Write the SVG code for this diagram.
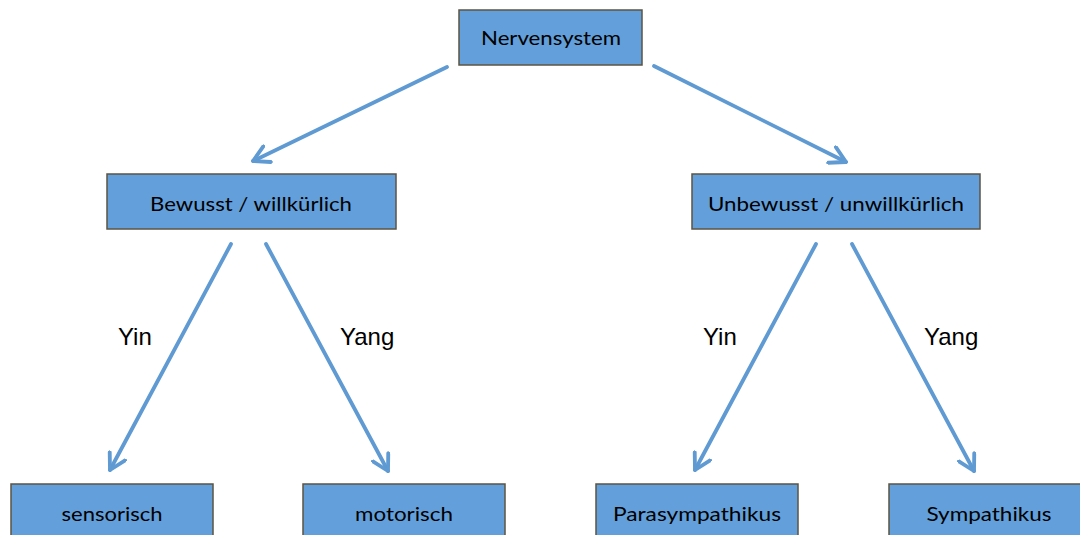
<svg xmlns="http://www.w3.org/2000/svg" width="1080" height="535" viewBox="0 0 1080 535">
<style>
.box{fill:#63A0DB;stroke:#5C5443;stroke-width:1.5}
.t{font-family:Lato,"Open Sans",sans-serif;font-size:20px;fill:#000;text-anchor:middle}
.lbl{font-family:"Liberation Sans",Arial,sans-serif;font-size:24px;fill:#000}
.c{stroke:#5F9AD2;stroke-width:3.8;fill:none;stroke-linecap:round}
</style>
<defs>
<marker id="ah" viewBox="0 0 12 12" refX="10" refY="6" markerWidth="5.5" markerHeight="5.5" orient="auto" markerUnits="strokeWidth">
<path d="M1,1 L10,6 L1,11" fill="none" stroke="#5F9AD2" stroke-width="2.2" stroke-linecap="round" stroke-linejoin="round"/>
</marker>
</defs>
<rect width="1080" height="535" fill="#fff"/>
<g id="connectors">
<line class="c" x1="447" y1="67" x2="253" y2="161" marker-end="url(#ah)"/>
<line class="c" x1="654" y1="66" x2="846" y2="162" marker-end="url(#ah)"/>
<line class="c" x1="231" y1="244" x2="110" y2="470" marker-end="url(#ah)"/>
<line class="c" x1="266" y1="244" x2="388" y2="471" marker-end="url(#ah)"/>
<line class="c" x1="816" y1="244" x2="695" y2="470" marker-end="url(#ah)"/>
<line class="c" x1="852" y1="244" x2="974" y2="471" marker-end="url(#ah)"/>
<text class="lbl" x="118" y="345">Yin</text>
<text class="lbl" x="340" y="345">Yang</text>
<text class="lbl" x="703" y="345">Yin</text>
<text class="lbl" x="924" y="345">Yang</text>
</g>
<g id="n-nervensystem"><rect class="box" x="459" y="10" width="183" height="55"/><text class="t" x="551" y="45" textLength="140" lengthAdjust="spacingAndGlyphs">Nervensystem</text></g>
<g id="n-bewusst"><rect class="box" x="107" y="174" width="289" height="55"/><text class="t" x="251" y="211" textLength="202" lengthAdjust="spacingAndGlyphs">Bewusst / willkürlich</text></g>
<g id="n-unbewusst"><rect class="box" x="692" y="174" width="288" height="55"/><text class="t" x="836" y="211" textLength="256" lengthAdjust="spacingAndGlyphs">Unbewusst / unwillkürlich</text></g>
<g id="n-sensorisch"><rect class="box" x="11" y="484" width="202" height="60"/><text class="t" x="112" y="521" textLength="101" lengthAdjust="spacingAndGlyphs">sensorisch</text></g>
<g id="n-motorisch"><rect class="box" x="303" y="484" width="202" height="60"/><text class="t" x="404" y="521" textLength="98" lengthAdjust="spacingAndGlyphs">motorisch</text></g>
<g id="n-parasympathikus"><rect class="box" x="596" y="484" width="202" height="60"/><text class="t" x="697" y="521" textLength="168" lengthAdjust="spacingAndGlyphs">Parasympathikus</text></g>
<g id="n-sympathikus"><rect class="box" x="889" y="484" width="202" height="60"/><text class="t" x="989" y="521" textLength="125" lengthAdjust="spacingAndGlyphs">Sympathikus</text></g>
</svg>
